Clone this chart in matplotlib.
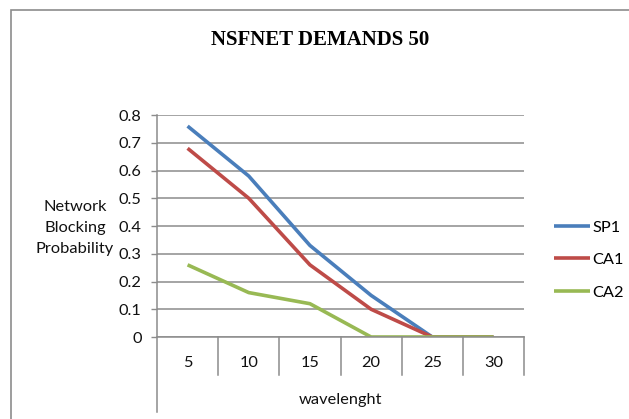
import matplotlib
matplotlib.use("Agg")
import matplotlib.pyplot as plt
from matplotlib.lines import Line2D
from matplotlib.patches import Rectangle
import matplotlib.transforms as mtransforms

categories = ["5", "10", "15", "20", "25", "30"]
sp1 = [0.76, 0.58, 0.33, 0.15, 0.0, 0.0]
ca1 = [0.68, 0.50, 0.26, 0.10, 0.0, 0.0]
ca2 = [0.26, 0.16, 0.12, 0.0, 0.0, 0.0]
series_names = ["SP1", "CA1", "CA2"]
colors = ["#4A7EBB", "#BE4B48", "#98B954"]
yticks = [0, 0.1, 0.2, 0.3, 0.4, 0.5, 0.6, 0.7, 0.8]

W, H = 629, 419
FS = 11.8
plt.rcParams['font.family'] = ['Lato', 'DejaVu Sans']
fig = plt.figure(figsize=(W / 100, H / 100), dpi=100)
fig.patch.set_facecolor("white")

# outer chart border
fig.add_artist(Rectangle((11 / W, -0.1), 1.2, (409 / H) + 0.1, transform=fig.transFigure,
                         fill=False, edgecolor="#8c8c8c", linewidth=1.2))

left, right, top, bottom = 157, 524, 115, 337
ax = fig.add_axes([left / W, (H - bottom) / H, (right - left) / W, (bottom - top) / H])
ax.set_facecolor("none")

x = [i + 0.5 for i in range(len(categories))]
for vals, name, c in zip([sp1, ca1, ca2], series_names, colors):
    ax.plot(x, vals, color=c, linewidth=2.6, label=name, solid_capstyle="butt")

ax.set_xlim(0, len(categories))
ax.set_ylim(0, 0.8)
ax.set_yticks(yticks)
ax.set_yticklabels([("%g" % v) for v in yticks])
ax.yaxis.grid(True, color="#8c8c8c", linewidth=1.1)
ax.set_axisbelow(True)
for s in ["top", "right", "bottom", "left"]:
    ax.spines[s].set_visible(False)
ax.tick_params(axis="y", length=4, width=1, color="#8c8c8c", pad=7, labelsize=FS, labelcolor="#111111")
ax.set_xticks(x)
ax.set_xticklabels(categories)
ax.tick_params(axis="x", length=0, pad=14, labelsize=FS, labelcolor="#111111")

# axis lines: left axis extended below, bottom axis, category separators
h = bottom - top
ax.add_line(Line2D([0, 0], [1, -(412 - bottom) / h], transform=ax.transAxes,
                   color="#8c8c8c", linewidth=1.1, clip_on=False))
ax.add_line(Line2D([0, 1], [0, 0], transform=ax.transAxes,
                   color="#8c8c8c", linewidth=1.1, clip_on=False))
trans = mtransforms.blended_transform_factory(ax.transData, ax.transAxes)
for i in range(1, len(categories) + 1):
    ax.add_line(Line2D([i, i], [0, -(375 - bottom) / h], transform=trans,
                       color="#8c8c8c", linewidth=1.1, clip_on=False))

ax.text(0.5, -(400 - bottom) / h, "wavelenght", transform=ax.transAxes,
        ha="center", va="center", fontsize=FS, color="#111111")

fig.text(75 / W, 1 - 228 / H, "Network\nBlocking\nProbability", ha="center", va="center",
         fontsize=FS, linespacing=1.65, color="#111111")

fig.text(320 / W, 1 - 40 / H, "NSFNET DEMANDS 50", ha="center", va="center",
         fontsize=15, fontweight="bold", family="Liberation Serif", color="#000000")

leg = ax.legend(loc="upper left", bbox_to_anchor=(546 / W, 1 - 212 / H),
                bbox_transform=fig.transFigure, frameon=False, fontsize=FS,
                handlelength=2.2, handletextpad=0.15, labelspacing=1.1, borderpad=0)

fig.savefig("out.png", dpi=100)
